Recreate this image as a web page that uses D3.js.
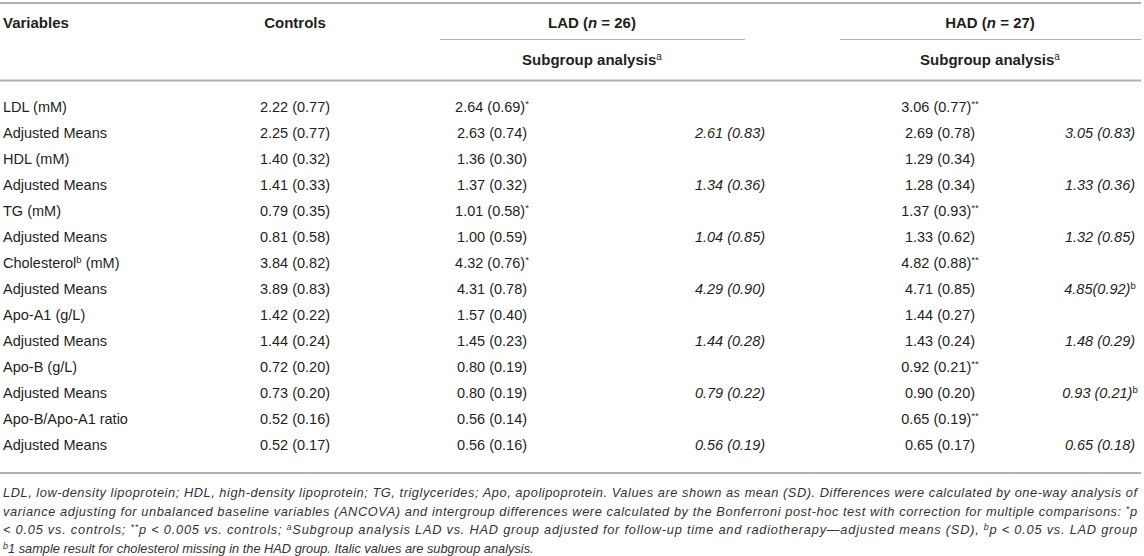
<!DOCTYPE html>
<html>
<head>
<meta charset="utf-8">
<script src="https://cdn.jsdelivr.net/npm/d3@7"></script>
<style>
  body { margin: 0; background: #fff; }
  text { font-family: "Liberation Sans", Arial, Helvetica, sans-serif; fill: #231f20; }
</style>
</head>
<body>
<script>
// table values, "^" marks a superscript
var variables = ["LDL (mM)", "Adjusted Means", "HDL (mM)", "Adjusted Means", "TG (mM)", "Adjusted Means",
  "Cholesterol^b (mM)", "Adjusted Means", "Apo-A1 (g/L)", "Adjusted Means", "Apo-B (g/L)", "Adjusted Means",
  "Apo-B/Apo-A1 ratio", "Adjusted Means"];

var controls = ["2.22 (0.77)", "2.25 (0.77)", "1.40 (0.32)", "1.41 (0.33)", "0.79 (0.35)", "0.81 (0.58)",
  "3.84 (0.82)", "3.89 (0.83)", "1.42 (0.22)", "1.44 (0.24)", "0.72 (0.20)", "0.73 (0.20)", "0.52 (0.16)", "0.52 (0.17)"];

var lad = ["2.64 (0.69)^*", "2.63 (0.74)", "1.36 (0.30)", "1.37 (0.32)", "1.01 (0.58)^*", "1.00 (0.59)",
  "4.32 (0.76)^*", "4.31 (0.78)", "1.57 (0.40)", "1.45 (0.23)", "0.80 (0.19)", "0.80 (0.19)", "0.56 (0.14)", "0.56 (0.16)"];

var ladSub = [null, "2.61 (0.83)", null, "1.34 (0.36)", null, "1.04 (0.85)", null, "4.29 (0.90)",
  null, "1.44 (0.28)", null, "0.79 (0.22)", null, "0.56 (0.19)"];

var had = ["3.06 (0.77)^**", "2.69 (0.78)", "1.29 (0.34)", "1.28 (0.34)", "1.37 (0.93)^**", "1.33 (0.62)",
  "4.82 (0.88)^**", "4.71 (0.85)", "1.44 (0.27)", "1.43 (0.24)", "0.92 (0.21)^**", "0.90 (0.20)", "0.65 (0.19)^**", "0.65 (0.17)"];

var hadSub = [null, "3.05 (0.83)", null, "1.33 (0.36)", null, "1.32 (0.85)", null, "4.85(0.92)^b",
  null, "1.48 (0.29)", null, "0.93 (0.21)^b", null, "0.65 (0.18)"];

var columns = ["controls", "lad", "ladSub", "had", "hadSub"];
var colData = { controls: controls, lad: lad, ladSub: ladSub, had: had, hadSub: hadSub };
var italicCols = ["ladSub", "hadSub"];

// footnote, [text, style] pieces: "i" italic, "s" italic superscript
var footnote = [
  [["LDL, low-density lipoprotein; HDL, high-density lipoprotein; TG, triglycerides; Apo, apolipoprotein. Values are shown as mean (SD). Differences were calculated by one-way analysis of", "i"]],
  [["variance adjusting for unbalanced baseline variables (ANCOVA) and intergroup differences were calculated by the Bonferroni post-hoc test with correction for multiple comparisons: ", "i"], ["*", "s"], ["p", "i"]],
  [["< 0.05 vs. controls; ", "i"], ["**", "s"], ["p < 0.005 vs. controls; ", "i"], ["a", "s"], ["Subgroup analysis LAD vs. HAD group adjusted for follow-up time and radiotherapy\u2014adjusted means (SD), ", "i"], ["b", "s"], ["p < 0.05 vs. LAD group", "i"]],
  [["b", "s"], ["1 sample result for cholesterol missing in the HAD group. Italic values are subgroup analysis.", "i"]]
];

var width = 1144, height = 556;
var fontSize = 14.5;
var lineColor = "#b0b0b0";

var svg = d3.select("body")
    .append("svg")
    .attr("width", width)
    .attr("height", height);

// rows
var y = d3.scaleBand()
    .domain(d3.range(variables.length))
    .range([94, 94 + 26 * variables.length]);

// column centers
var x = d3.scaleOrdinal()
    .domain(columns)
    .range([295, 492, 730, 940, 1100]);

// writes "text^sup" into a text element
function fill(sel, str) {
  var parts = str.split("^");
  sel.append("tspan").text(parts[0]);
  if (parts.length > 1) {
    var m = parts[1].match(/^(\*+|[a-z])(.*)$/);
    sel.append("tspan")
        .attr("font-size", fontSize * 0.66)
        .attr("font-style", "normal")
        .attr("dy", -5)
        .text(m[1]);
    if (m[2]) {
      sel.append("tspan").attr("dy", 5).text(m[2]);
    }
  }
}

// rules
function hline(x1, x2, yy, w) {
  svg.append("line")
      .attr("x1", x1).attr("x2", x2)
      .attr("y1", yy).attr("y2", yy)
      .style("stroke", lineColor)
      .style("stroke-width", w);
}
hline(0, 1141, 3, 2);
hline(440, 745, 39.5, 1);
hline(840, 1141, 39.5, 1);
hline(0, 1141, 80.5, 2);
hline(0, 1141, 473, 2);

// header
var head = svg.append("g").attr("font-size", 15).attr("font-weight", "bold");
head.append("text").attr("x", 3).attr("y", 28).text("Variables");
head.append("text").attr("x", x("controls")).attr("y", 28).attr("text-anchor", "middle").text("Controls");

[["LAD", "26", 592], ["HAD", "27", 990]].forEach(function(g) {
  var t = head.append("text").attr("x", g[2]).attr("y", 28).attr("text-anchor", "middle");
  t.append("tspan").text(g[0] + " (");
  t.append("tspan").attr("font-style", "italic").text("n");
  t.append("tspan").text(" = " + g[1] + ")");
  var s = head.append("text").attr("x", g[2]).attr("y", 65).attr("text-anchor", "middle");
  s.append("tspan").text("Subgroup analysis");
  s.append("tspan").attr("font-weight", "normal").attr("font-size", 10).attr("dy", -5).text("a");
});

// body rows
var body = svg.append("g").attr("font-size", fontSize);

body.selectAll("text.var")
    .data(variables)
    .enter()
    .append("text")
    .attr("class", "var")
    .attr("x", 3)
    .attr("y", function(d, i) { return y(i) + y.bandwidth() / 2 + 5; })
    .each(function(d) { fill(d3.select(this), d); });

columns.forEach(function(c) {
  body.selectAll("text." + c)
      .data(colData[c].map(function(v, i) { return { v: v, i: i }; }).filter(function(d) { return d.v; }))
      .enter()
      .append("text")
      .attr("class", c)
      .attr("x", x(c))
      .attr("y", function(d) { return y(d.i) + y.bandwidth() / 2 + 5; })
      .attr("text-anchor", "middle")
      .attr("font-style", italicCols.indexOf(c) >= 0 ? "italic" : "normal")
      .each(function(d) { fill(d3.select(this), d.v); });
});

// footnote
var foot = svg.append("g").attr("font-size", 12.8).attr("font-style", "italic");
footnote.forEach(function(line, li) {
  var t = foot.append("text")
      .attr("x", 3)
      .attr("y", 497 + li * 18.5)
      .style("fill", "#333");
  var up = false;
  line.forEach(function(p) {
    if (p[1] === "s") {
      t.append("tspan").attr("font-size", 9).attr("dy", up ? null : -4).text(p[0]);
      up = true;
    } else {
      t.append("tspan").attr("dy", up ? 4 : null).text(p[0]);
      up = false;
    }
  });
  // justify the first three lines to the full width
  if (li < 3) {
    t.attr("textLength", 1134).attr("lengthAdjust", "spacing");
  }
});
</script>
</body>
</html>
